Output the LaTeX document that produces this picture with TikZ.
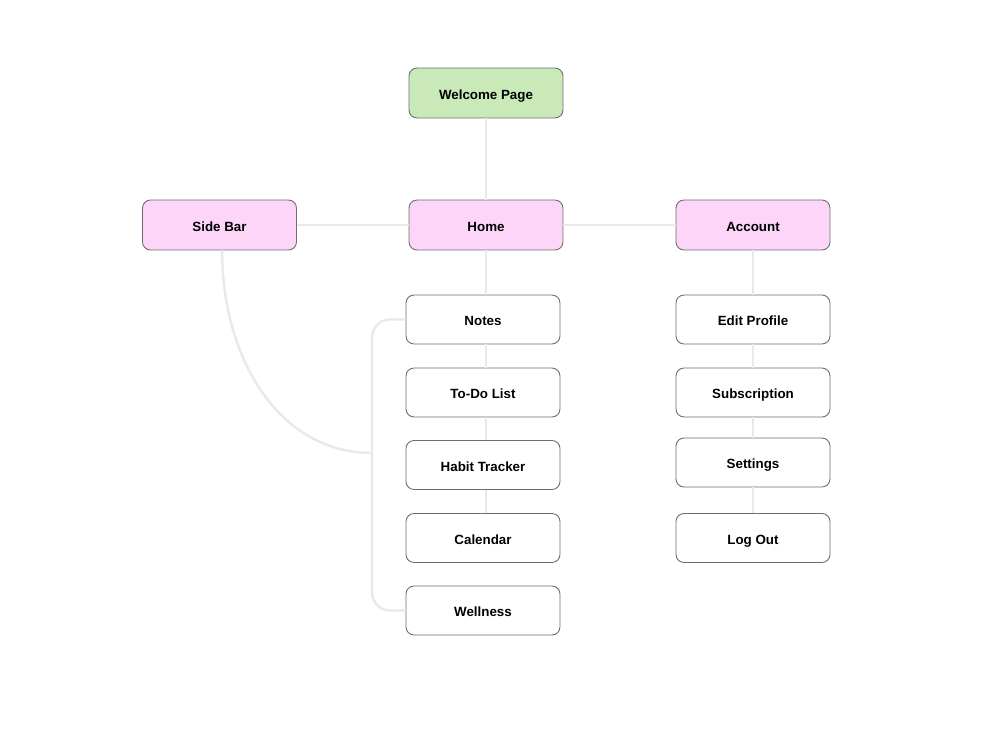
\documentclass[tikz,border=0pt]{standalone}
\usepackage{fontspec}
\setmainfont{Liberation Sans}
\usepackage{tikz}
\definecolor{pagegreen}{HTML}{C9EAB8}
\definecolor{navpink}{HTML}{FDD5F8}
\definecolor{boxline}{HTML}{6E6E6E}
\definecolor{linkgray}{HTML}{E9E9E9}

\begin{document}
\begin{tikzpicture}[x=0.02cm, y=-0.02cm,
	box/.style = {draw=boxline, line width=0.5pt, rounded corners=0.16cm, fill=white,
		minimum width=3.08cm, minimum height=0.98cm, text height=0.72em, text depth=0pt,
		font=\fontsize{7.6}{9}\selectfont\bfseries},
	page/.style = {box, fill=pagegreen, minimum height=1cm},
	nav/.style = {box, fill=navpink, minimum height=1cm},
	link/.style = {draw=linkgray, line width=1.4pt}]
	\useasboundingbox (0,0) rectangle (1000,750);
	\fill[white] (0,0) rectangle (1000,750);

	\coordinate (rail) at (372,453);
	\coordinate (trunk) at (486,0);

	\node[page] (welcome) at (486,93) {Welcome Page};
	\node[nav] (sidebar) at (219.5,225) {Side Bar};
	\node[nav] (home) at (486,225) {Home};
	\node[nav] (account) at (753,225) {Account};

	\draw[link] (welcome) -- (home);
	\draw[link] (sidebar) -- (home);
	\draw[link] (home) -- (account);

	\foreach \y/\t/\n in {319.5/Notes/notes, 392.5/To-Do List/todo, 465/Habit Tracker/habit,
		538/Calendar/calendar, 610.5/Wellness/wellness}
	\node[box] (\n) at (483,\y) {\t};

	\foreach \y/\t/\n in {319.5/Edit Profile/profile, 392.5/Subscription/subscription,
		462.5/Settings/settings, 538/Log Out/logout}
	\node[box] (\n) at (753,\y) {\t};

	\draw[link] (home.south) -- (notes.north -| trunk);
	\draw[link] (notes.south -| trunk) -- (todo.north -| trunk);
	\draw[link] (todo.south -| trunk) -- (habit.north -| trunk);
	\draw[link] (habit.south -| trunk) -- (calendar.north -| trunk);

	\draw[link] (account) -- (profile);
	\draw[link] (profile) -- (subscription);
	\draw[link] (subscription) -- (settings);
	\draw[link] (settings) -- (logout);

	\draw[link, rounded corners=0.36cm] (notes.west) -- (notes.west -| rail)
		-- (wellness.west -| rail) -- (wellness.west);
	\draw[link] ([xshift=1.5]sidebar.south) .. controls (222,360) and (280,453) .. (rail);
\end{tikzpicture}
\end{document}
